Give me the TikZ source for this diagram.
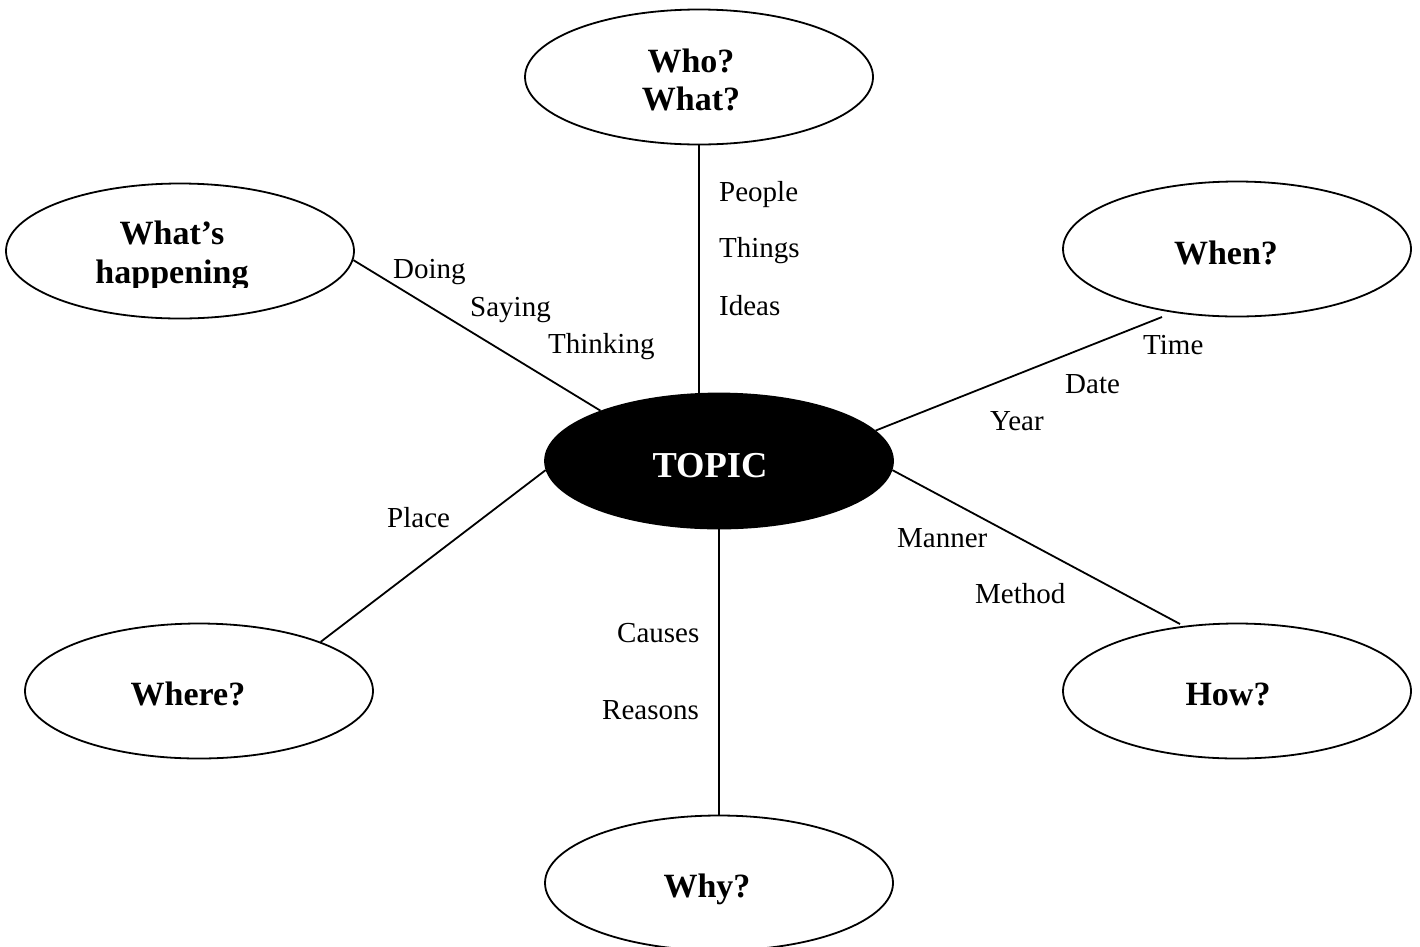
\documentclass[tikz,border=0pt]{standalone}
\usepackage{fontspec}
\setmainfont{Liberation Serif}
\usetikzlibrary{shapes.geometric,backgrounds}
\tikzset{
  bubble/.style={ellipse, draw=black, fill=white, line width=1.8pt,
    minimum width=348pt, minimum height=135pt, inner sep=0pt},
  title/.style={font=\fontsize{34}{40}\selectfont\bfseries, inner sep=0pt, anchor=base},
  lab/.style={font=\fontsize{29}{34}\selectfont, inner sep=0pt, anchor=base west},
  link/.style={line width=1.8pt, draw=black},
}
\begin{document}
\begin{tikzpicture}[x=1pt,y=-1pt]
\useasboundingbox (0,0) rectangle (1420,946);
% ellipses
\node[bubble] (who) at (699,77) {};
\node[bubble] (what) at (180,251) {};
\node[bubble] (when) at (1237,249) {};
\node[bubble, fill=black] (topic) at (719,461) {};
\node[bubble] (where) at (199,691) {};
\node[bubble] (how) at (1237,691) {};
\node[bubble] (why) at (719,883) {};
% titles
\node[title] (whoA) at (691,72) {Who?};
\node[title] (whoB) at (691,110) {What?};
\node[title] (whatA) at (172,244) {What’s};
\begin{scope}
  \clip (0,180) rectangle (360,287);
  \node[title] (whatB) at (172,283) {happening};
\end{scope}
\node[title] (whenT) at (1226,264) {When?};
\node[title, text=white, font=\fontsize{36.5}{42}\selectfont\bfseries] (topicT) at (710,477) {TOPIC};
\node[title] (whereT) at (188,705) {Where?};
\node[title] (howT) at (1228,705) {How?};
\node[title] (whyT) at (707,897) {Why?};
% labels
\node[lab] (people) at (719,201) {People};
\node[lab] (things) at (719,257) {Things};
\node[lab] (ideas) at (719,315) {Ideas};
\node[lab] (doing) at (393,278) {Doing};
\node[lab] (saying) at (470,316) {Saying};
\node[lab] (thinking) at (548,353) {Thinking};
\node[lab] (time) at (1143,354) {Time};
\node[lab] (date) at (1065,393) {Date};
\node[lab] (year) at (990,430) {Year};
\node[lab] (place) at (387,527) {Place};
\node[lab] (manner) at (897,547) {Manner};
\node[lab] (method) at (975,603) {Method};
\node[lab] (causes) at (617,642) {Causes};
\node[lab] (reasons) at (602,719) {Reasons};
% free ends
\coordinate (whenend) at (1162,317);
\coordinate (howend) at (1180,624);
\begin{pgfonlayer}{background}
  \fill[white] (0,0) rectangle (1420,946);
  \draw[link] (who.south) -- (who.south |- topic.center);
  \draw[link] (what.357) -- (topic.157);
  \draw[link] (topic.11) -- (whenend);
  \draw[link] (topic.183) -- (where.22);
  \draw[link] (topic.357) -- (howend);
  \draw[link] (topic.center) -- (why.north);
\end{pgfonlayer}
\end{tikzpicture}
\end{document}
